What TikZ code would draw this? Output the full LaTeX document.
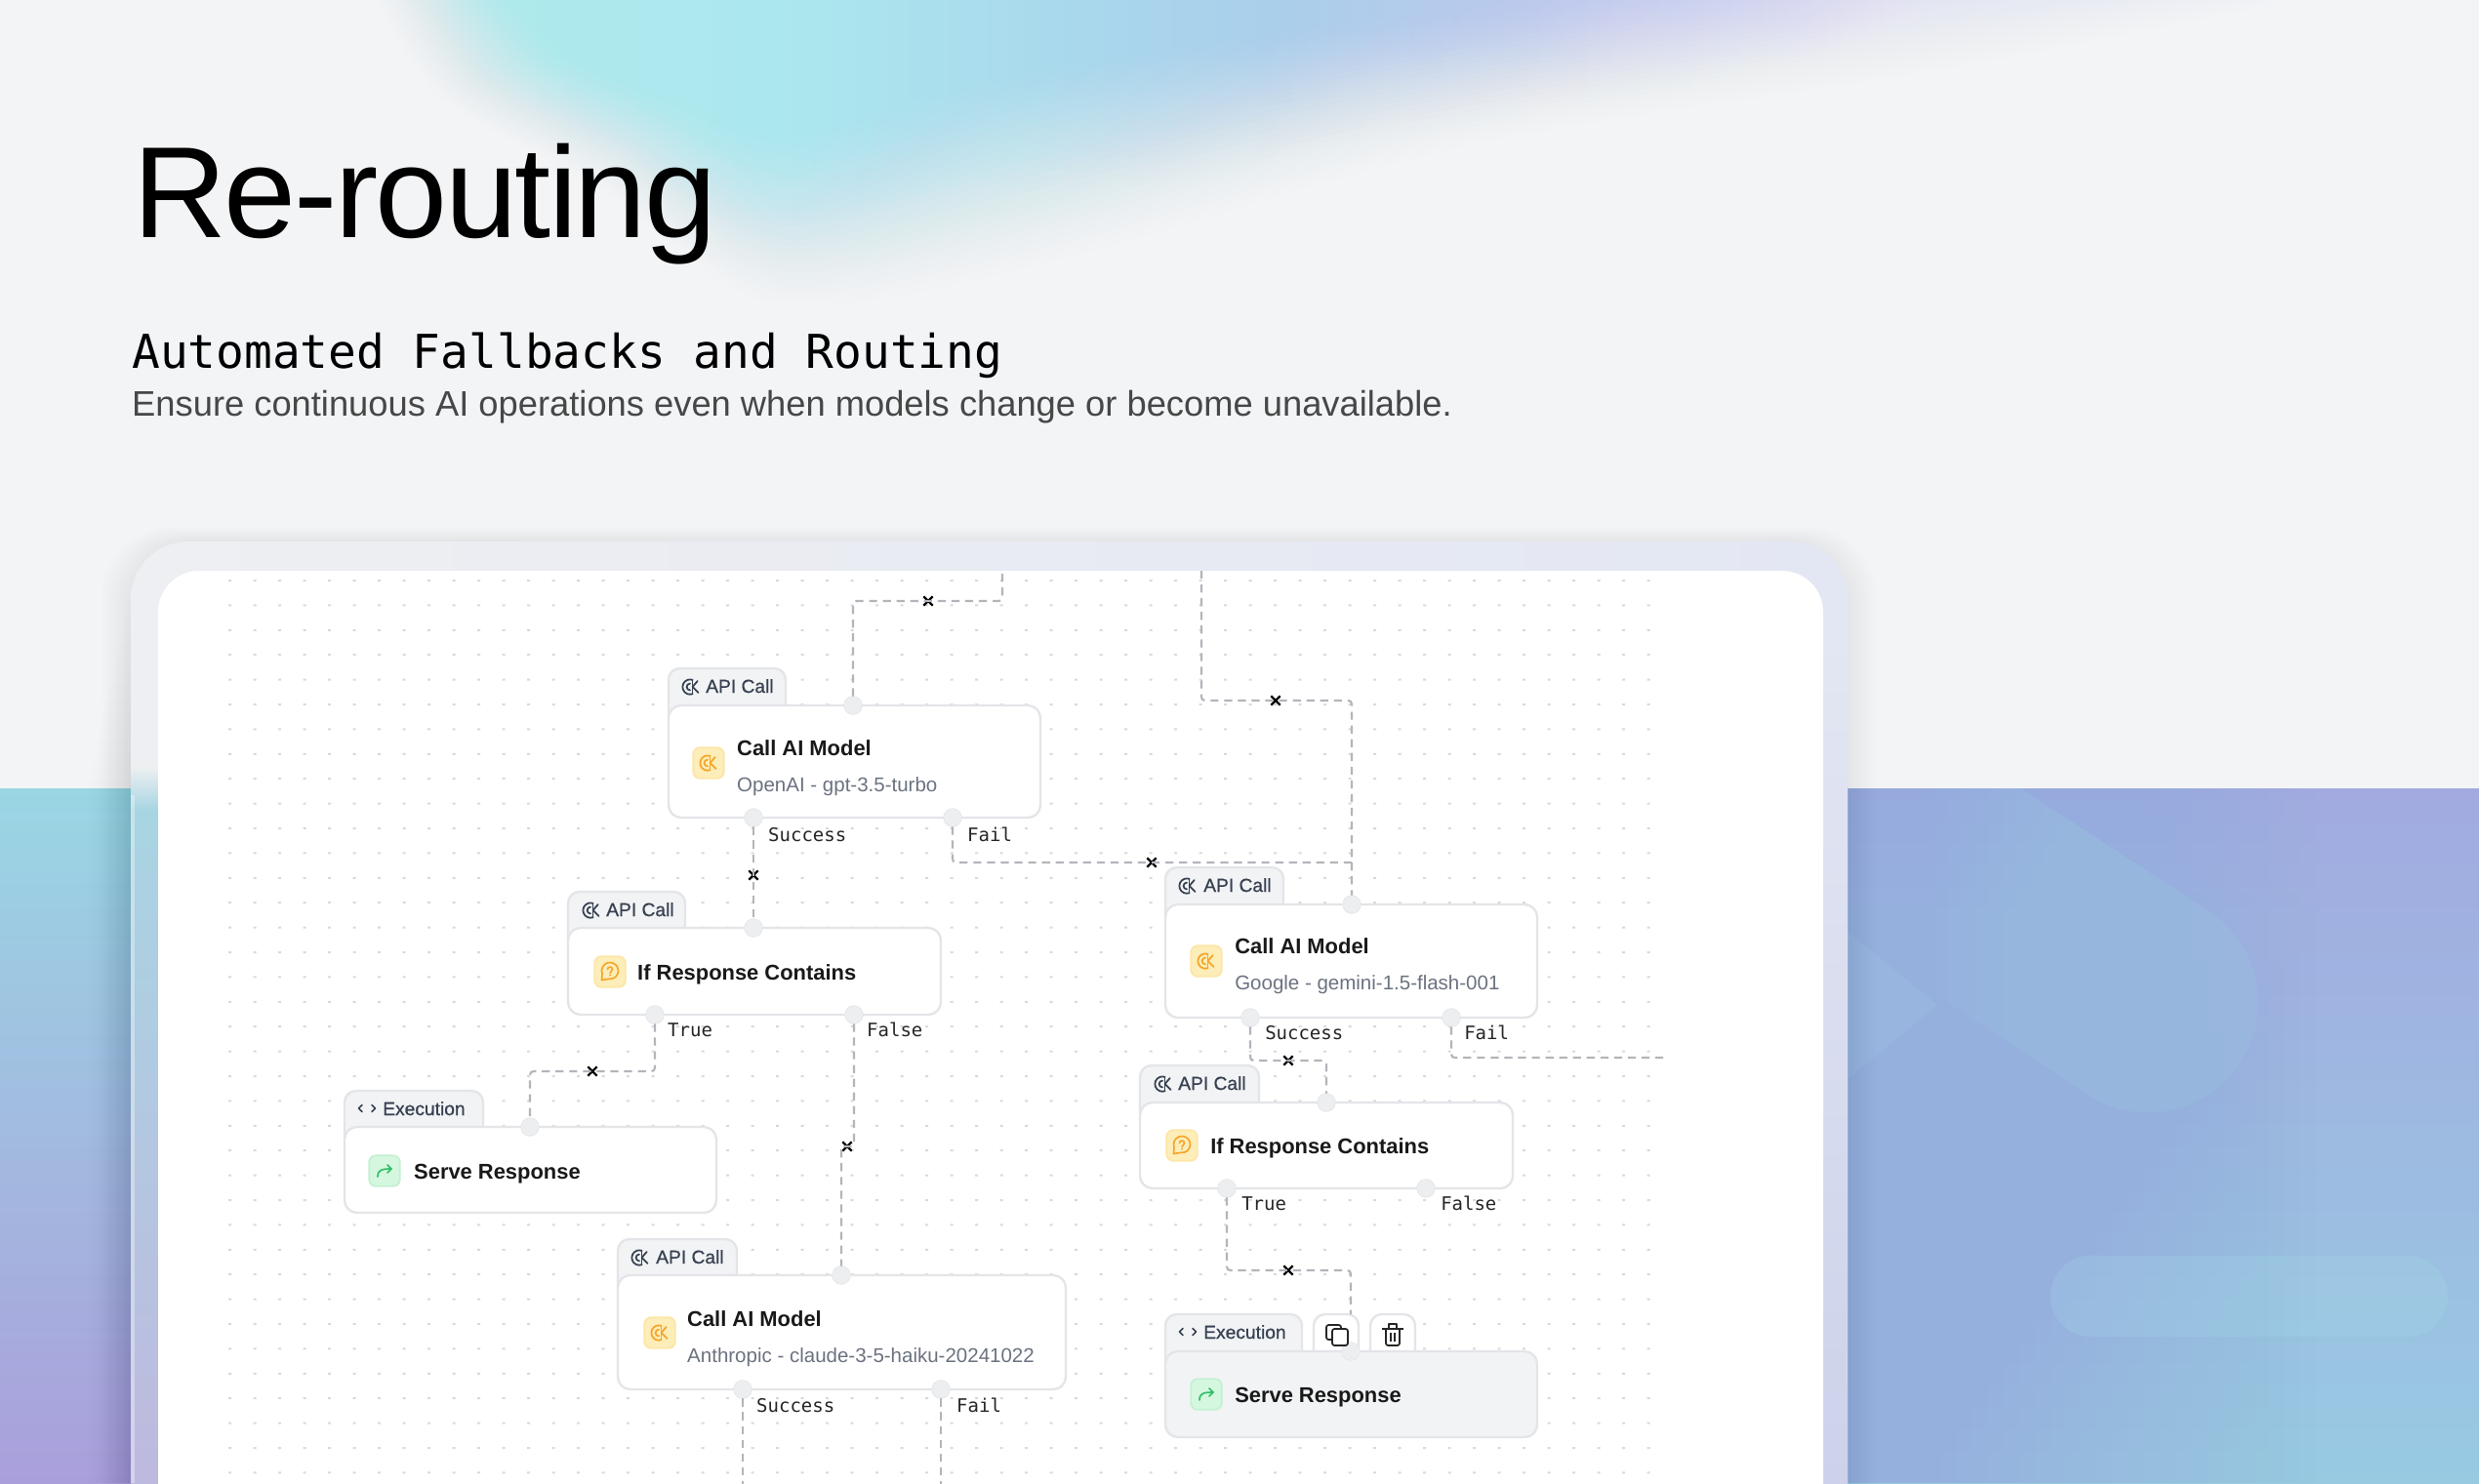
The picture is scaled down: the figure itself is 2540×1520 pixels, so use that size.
\documentclass[tikz,border=0pt]{standalone}
\usepackage{fontspec}
\usetikzlibrary{shapes.misc}
\setmainfont{Liberation Sans}
\newfontfamily\titlefont[LetterSpace=-1.9]{Liberation Sans}
\newfontfamily\headmono{DejaVu Sans Mono}
\newfontfamily\labelmono{DejaVu Sans Mono}
\newfontfamily\tabfont[FakeBold=0.7]{Liberation Sans}
\definecolor{pagebg}{HTML}{F2F4F6}
\definecolor{blobA}{HTML}{AEE9EC}
\definecolor{blobB}{HTML}{ABE7EE}
\definecolor{blobC}{HTML}{A9D8EC}
\definecolor{blobD}{HTML}{AACFEB}
\definecolor{blobE}{HTML}{BAC9EC}
\definecolor{blobF}{HTML}{D3D3F1}
\definecolor{blobG}{HTML}{E6E4F3}
\definecolor{edge}{HTML}{E3E5E8}
\definecolor{tabfill}{HTML}{F2F3F5}
\definecolor{wirecol}{HTML}{B2B5BA}
\definecolor{portcol}{HTML}{ECEEF0}
\definecolor{griddotcol}{HTML}{D9DADD}
\definecolor{amberfill}{HTML}{FDEDB9}
\definecolor{amberedge}{HTML}{FCE6A6}
\definecolor{amberink}{HTML}{F4A62A}
\definecolor{greenfill}{HTML}{D5F7DF}
\definecolor{greenedge}{HTML}{C4F0D2}
\definecolor{greenink}{HTML}{2FBF66}
\definecolor{tabink}{HTML}{374151}
\definecolor{subink}{HTML}{6B7280}
\definecolor{bandLa}{HTML}{9AD6E4}
\definecolor{bandLb}{HTML}{9CBEE2}
\definecolor{bandLc}{HTML}{AA9FDB}
\definecolor{bandRa}{HTML}{A2AAE0}
\definecolor{bandRb}{HTML}{96B6E2}
\definecolor{bandRc}{HTML}{98CAE2}
\definecolor{bandRleft}{HTML}{96B0DE}
\definecolor{logotint}{HTML}{A5E0EA}
\definecolor{rimL}{HTML}{EEEFF2}
\definecolor{rimR}{HTML}{E3E7F3}
\definecolor{rimLa}{HTML}{EEF0F2}
\definecolor{rimLb}{HTML}{A8D5E2}
\definecolor{rimLc}{HTML}{AFC5E1}
\definecolor{rimLd}{HTML}{BEB9DF}
\definecolor{rimRb}{HTML}{CDD1EA}
\pgfdeclarehorizontalshading{blobshade}{100bp}{
  color(0bp)=(blobA); color(29.9bp)=(blobA); color(37.3bp)=(blobB);
  color(44.6bp)=(blobC); color(49.5bp)=(blobD); color(55.6bp)=(blobE);
  color(63bp)=(blobF); color(69bp)=(blobG); color(75bp)=(pagebg); color(100bp)=(pagebg)}
\tikzset{
  nodebox/.style={rectangle,rounded corners=11pt,draw=edge,line width=2pt,fill=white,inner sep=0pt,outer sep=0pt,anchor=north west},
  tabbox/.style={rectangle,rounded corners=10pt,draw=edge,line width=2pt,fill=tabfill,inner sep=0pt,outer sep=0pt,anchor=north west},
  toolbox/.style={tabbox,fill=white},
  portdot/.style={circle,fill=portcol,draw=edge,line width=0.5pt,minimum size=16pt,inner sep=0pt,outer sep=0pt},
  wire/.style={draw=wirecol,line width=1.8pt,dash pattern=on 7pt off 5pt,rounded corners=3pt},
  xmark/.style={cross out,draw=black,line width=1.9pt,minimum size=8pt,inner sep=0pt,outer sep=0pt},
  nodettl/.style={anchor=base west,inner sep=0pt,font=\fontsize{18.7pt}{20pt}\selectfont\bfseries,text=black!90},
  nodesub/.style={anchor=base west,inner sep=0pt,font=\fontsize{17.5pt}{20pt}\selectfont,text=subink},
  tablabel/.style={anchor=base west,inner sep=0pt,font=\tabfont\fontsize{16.4pt}{18pt}\selectfont,text=tabink},
  portlabel/.style={anchor=base west,inner sep=0pt,font=\labelmono\fontsize{16.2pt}{18pt}\selectfont,text=black!85},
  iconbox/.style={rectangle,rounded corners=6pt,line width=1.5pt,minimum size=27pt,inner sep=0pt},
  griddot/.style={fill=griddotcol},
}
% API glyph: broken ring with a k-shaped mark
\newcommand{\apiglyph}[4]{\begin{scope}[shift={(#1,#2)},scale=#4,draw=#3,line width=1.5pt,line cap=round]
  \draw (3.1,8.5) arc[start angle=70,end angle=290,radius=9];
  \draw (0,4) arc[start angle=90,end angle=270,radius=4];
  \draw (3,-8) -- (3,8);
  \draw (3,0) -- (9,-7) (3,0) -- (10,7);
\end{scope}}
\newcommand{\bubbleglyph}[2]{\begin{scope}[shift={(#1,#2)},draw=amberink,line width=1.4pt,line cap=round,line join=round]
  \draw (-8,2.9) arc[start angle=160,end angle=460,radius=8.5] -- (-8.5,9.5) -- cycle;
  \draw (-2.5,-1.5) arc[start angle=180,end angle=420,radius=2.5] -- (0,2.5);
  \fill[amberink] (0,4.6) circle (1);
\end{scope}}
\newcommand{\arrowglyph}[2]{\begin{scope}[shift={(#1,#2)},draw=greenink,line width=1.4pt,line cap=round,line join=round]
  \draw (-7,6) .. controls (-7,-1) and (-3,-2) .. (7,-2);
  \draw (3,-6) -- (7,-2) -- (3,2);
\end{scope}}
\newcommand{\chevrons}[2]{\begin{scope}[shift={(#1,#2)},draw=tabink,line width=1.4pt,line cap=round,line join=round]
  \draw (-5,-3.5) -- (-8.5,0) -- (-5,3.5);
  \draw (5,-3.5) -- (8.5,0) -- (5,3.5);
\end{scope}}
\begin{document}
\begin{tikzpicture}[x=0.3mm,y=-0.3mm]
\useasboundingbox (0,0) rectangle (2540,1520);
\clip (0,0) rectangle (2540,1520);
\fill[pagebg] (0,0) rectangle (2540,1520);
% soft glow at the top: nested outlines with a smooth ramp of opacity
\foreach \k in {1,...,30}{
  \pgfmathsetmacro\blobt{(\k-1)/29}
  \pgfmathsetmacro\rampA{(\k/30)*(\k/30)*(3-2*\k/30)}
  \pgfmathsetmacro\rampB{((\k-1)/30)*((\k-1)/30)*(3-2*(\k-1)/30)}
  \pgfmathsetmacro\bloba{min(1,(\rampA-\rampB)/(1-\rampB))}
  \begin{scope}
    \clip plot[smooth] coordinates {
      ({380+150*\blobt},-10) ({450+140*\blobt},{100-50*\blobt}) ({610+80*\blobt},{190-100*\blobt})
      ({790+20*\blobt},{310-190*\blobt}) ({1050-50*\blobt},{275-215*\blobt}) ({1500-200*\blobt},{150-130*\blobt})
      ({2000-500*\blobt},{70-75*\blobt}) ({2400-700*\blobt},-10)} -- (2600,-30) -- (300,-30) -- cycle;
    \shade[shading=blobshade,opacity=\bloba] (300,-30) rectangle (2340,340);
  \end{scope}
}
% colour bands
\shade[top color=bandLa,middle color=bandLb,bottom color=bandLc] (0,808) rectangle (140,1520);
\shade[top color=bandRa,middle color=bandRb,bottom color=bandRc] (1885,808) rectangle (2540,1520);
\foreach \k in {1,...,30}{
  \fill[bandRleft,opacity=.04] (1885,808) rectangle ({1893+16*\k},1520);
}
% faint logo shapes
\foreach \k in {1,...,12}{
  \begin{scope}
    \clip ({2150-14*\k},808) rectangle (2540,1520);
    \fill[logotint,opacity=.022] (1893,808) -- (2071,808) -- (2264,934) arc[start angle=-56,end angle=124,radius=113] -- (2031,1051) -- (1985,1020) -- (1893,940) -- cycle;
  \end{scope}
  \begin{scope}
    \clip ({2060-14*\k},808) rectangle (2540,1520);
    \fill[logotint,opacity=.02] (1893,1000) -- (1985,1040) -- (2031,1085) -- (2120,1160) .. controls (2140,1172) and (2160,1178) .. (2180,1181) -- (1932,1342) -- (1893,1370) -- cycle;
  \end{scope}
}
\fill[logotint,opacity=.12] (1893,955) -- (1985,1030) -- (1893,1106) -- cycle;
\fill[logotint,opacity=.2,rounded corners=35pt] (2101,1287) rectangle (2508,1370);
% card shadow
\foreach \k in {1,...,15}{
  \fill[black,opacity=.003,rounded corners=60pt] ({134-2*\k},{555-1*\k}) rectangle ({1893+2*\k},1640);
  \fill[black,opacity=.005] ({134-3*\k},{590+14*\k}) rectangle (140,1520);
}
% card rim and sheet
\shade[left color=rimL,right color=rimR,rounded corners=50pt] (134,555) rectangle (1893,1640);
\shade[top color=rimLa,bottom color=rimLb] (134,785) rectangle (162,830);
\shade[top color=rimLb,middle color=rimLc,bottom color=rimLd] (134,830) rectangle (162,1520);
\fill[white,opacity=.35] (134,815) rectangle (138,1520);
\shade[top color=rimR,bottom color=rimRb] (1868,650) rectangle (1893,1520);
\fill[white,rounded corners=36pt] (162,585) rectangle (1868,1640);
% dot grid
\fill[griddot] \foreach \i in {0,...,57}{\foreach \j in {0,...,37}{({234+25.5*\i},{594+25.4*\j}) rectangle ++(3,2)}};
% heading
\node[anchor=base west,inner sep=0pt,font=\titlefont\fontsize{113.5pt}{120pt}\selectfont,text=black] (title) at (136,243) {Re-routing};
\node[anchor=base west,inner sep=0pt,font=\headmono\fontsize{40.8pt}{44pt}\selectfont,text=black] (head) at (135,377) {Automated Fallbacks and Routing};
\node[anchor=base west,inner sep=0pt,font=\fontsize{31pt}{36pt}\selectfont,text=black!72] (lede) at (135,426) {Ensure continuous AI operations even when models change or become unavailable.};
% tabs
\node[tabbox,minimum width={120*0.8536pt},minimum height={60*0.8536pt}] (t1) at (685,685) {};
\node[tabbox,minimum width={120*0.8536pt},minimum height={60*0.8536pt}] (t2) at (582,914) {};
\node[tabbox,minimum width={121*0.8536pt},minimum height={60*0.8536pt}] (t3) at (1194,889) {};
\node[tabbox,minimum width={142*0.8536pt},minimum height={60*0.8536pt}] (t4) at (353,1118) {};
\node[tabbox,minimum width={122*0.8536pt},minimum height={60*0.8536pt}] (t5) at (633,1270) {};
\node[tabbox,minimum width={122*0.8536pt},minimum height={60*0.8536pt}] (t6) at (1168,1092) {};
\node[tabbox,minimum width={140*0.8536pt},minimum height={60*0.8536pt}] (t7) at (1194,1347) {};
\node[toolbox,minimum width={46*0.8536pt},minimum height={60*0.8536pt}] (copy) at (1346,1347) {};
\node[toolbox,minimum width={46*0.8536pt},minimum height={60*0.8536pt}] (bin) at (1404,1347) {};
% boxes
\node[nodebox,minimum width={381*0.8536pt},minimum height={115*0.8536pt}] (n1) at (685,723) {};
\node[nodebox,minimum width={382*0.8536pt},minimum height={89*0.8536pt}] (n2) at (582,951) {};
\node[nodebox,minimum width={381*0.8536pt},minimum height={116*0.8536pt}] (n3) at (1194,927) {};
\node[nodebox,minimum width={381*0.8536pt},minimum height={88*0.8536pt}] (n4) at (353,1155) {};
\node[nodebox,minimum width={459*0.8536pt},minimum height={117*0.8536pt}] (n5) at (633,1307) {};
\node[nodebox,minimum width={382*0.8536pt},minimum height={88*0.8536pt}] (n6) at (1168,1130) {};
\node[nodebox,fill=tabfill,minimum width={381*0.8536pt},minimum height={88*0.8536pt}] (n7) at (1194,1385) {};
% ports
\node[portdot] (p1t) at (874,723) {};
\node[portdot] (p1a) at (772,838) {};
\node[portdot] (p1b) at (976,838) {};
\node[portdot] (p2t) at (772,951) {};
\node[portdot] (p2a) at (671,1040) {};
\node[portdot] (p2b) at (875,1040) {};
\node[portdot] (p3t) at (1385,927) {};
\node[portdot] (p3a) at (1281,1043) {};
\node[portdot] (p3b) at (1487,1043) {};
\node[portdot] (p4t) at (543,1155) {};
\node[portdot] (p5t) at (862,1307) {};
\node[portdot] (p5a) at (761,1424) {};
\node[portdot] (p5b) at (964,1424) {};
\node[portdot] (p6t) at (1359,1130) {};
\node[portdot] (p6a) at (1257,1218) {};
\node[portdot] (p6b) at (1461,1218) {};
\node[portdot] (p7t) at (1384,1385) {};
% free ends and x marks
\coordinate (e1) at (1027,585);
\coordinate (e2) at (1231,585);
\coordinate (e3) at (761,1530);
\coordinate (e4) at (964,1530);
\coordinate (e5) at (1709,1084);
\node[xmark] (m1) at (951,616) {};
\node[xmark] (m2) at (772,897) {};
\node[xmark] (m3) at (1180,884) {};
\node[xmark] (m4) at (1307,718) {};
\node[xmark] (m5) at (607,1098) {};
\node[xmark] (m6) at (868,1175) {};
\node[xmark] (m7) at (1320,1087) {};
\node[xmark] (m8) at (1320,1302) {};
% connectors
\draw[wire] (p1t.north) |- (m1.center) -| (e1);
\draw[wire] (p1a.south) -- (p2t.north);
\draw[wire] (p1b.south) |- (m3.center) -- (m3.center -| p3t.center);
\draw[wire] (e2) |- (m4.center) -| (p3t.north);
\draw[wire] (p2a.south) |- (m5.center) -| (p4t.north);
\draw[wire] (p2b.south) |- (m6.center) -| (p5t.north);
\draw[wire] (p5a.south) -- (e3);
\draw[wire] (p5b.south) -- (e4);
\draw[wire] (p3a.south) |- (m7.center) -| (p6t.north);
\draw[wire] (p3b.south) |- (e5);
\draw[wire] (p6a.south) |- (m8.center) -| (copy.north -| p7t);
% tab labels and glyphs
\apiglyph{707}{704}{tabink}{.85}
\node[tablabel] (l1) at (723,710) {API Call};
\apiglyph{605}{933}{tabink}{.85}
\node[tablabel] (l2) at (621,939) {API Call};
\apiglyph{1216}{908}{tabink}{.85}
\node[tablabel] (l3) at (1233,914) {API Call};
\chevrons{376}{1136}
\node[tablabel] (l4) at (392,1143) {Execution};
\apiglyph{655}{1289}{tabink}{.85}
\node[tablabel] (l5) at (672,1295) {API Call};
\apiglyph{1191}{1111}{tabink}{.85}
\node[tablabel] (l6) at (1207,1117) {API Call};
\chevrons{1217}{1365}
\node[tablabel] (l7) at (1233,1372) {Execution};
% copy and delete icons
\begin{scope}[draw=black!85,line width=1.5pt,line join=round]
  \draw[rounded corners=2pt] (1365,1373) -- (1359,1373) -- (1359,1358) -- (1374,1358) -- (1374,1362);
  \draw[rounded corners=2pt] (1365,1362) rectangle (1381,1379);
  \draw[rounded corners=2pt] (1420,1362) -- (1420,1379) -- (1434,1379) -- (1434,1362);
  \draw (1416,1362) -- (1438,1362);
  \draw (1423,1362) -- (1423,1357) -- (1431,1357) -- (1431,1362);
  \draw (1425,1366) -- (1425,1375) (1429,1366) -- (1429,1375);
\end{scope}
% body icons
\node[iconbox,fill=amberfill,draw=amberedge] (i1) at (726,782) {};
\apiglyph{725}{782}{amberink}{.85}
\node[iconbox,fill=amberfill,draw=amberedge] (i2) at (625,996) {};
\bubbleglyph{625}{995}
\node[iconbox,fill=amberfill,draw=amberedge] (i3) at (1236,985) {};
\apiglyph{1235}{985}{amberink}{.85}
\node[iconbox,fill=greenfill,draw=greenedge] (i4) at (394,1200) {};
\arrowglyph{394}{1200}
\node[iconbox,fill=amberfill,draw=amberedge] (i5) at (676,1366) {};
\apiglyph{675}{1366}{amberink}{.85}
\node[iconbox,fill=amberfill,draw=amberedge] (i6) at (1211,1174) {};
\bubbleglyph{1211}{1173}
\node[iconbox,fill=greenfill,draw=greenedge] (i7) at (1236,1429) {};
\arrowglyph{1236}{1429}
% node texts
\node[nodettl] (a1) at (755,774) {Call AI Model};
\node[nodesub] (b1) at (755,811) {OpenAI - gpt-3.5-turbo};
\node[nodettl] (a2) at (653,1004) {If Response Contains};
\node[nodettl] (a3) at (1265,977) {Call AI Model};
\node[nodesub] (b3) at (1265,1014) {Google - gemini-1.5-flash-001};
\node[nodettl] (a4) at (424,1208) {Serve Response};
\node[nodettl] (a5) at (704,1359) {Call AI Model};
\node[nodesub] (b5) at (704,1396) {Anthropic - claude-3-5-haiku-20241022};
\node[nodettl] (a6) at (1240,1182) {If Response Contains};
\node[nodettl] (a7) at (1265,1437) {Serve Response};
% port labels
\node[portlabel] (s1) at (787,862) {Success};
\node[portlabel] (f1) at (991,862) {Fail};
\node[portlabel] (s2) at (684,1062) {True};
\node[portlabel] (f2) at (888,1062) {False};
\node[portlabel] (s3) at (1296,1065) {Success};
\node[portlabel] (f3) at (1500,1065) {Fail};
\node[portlabel] (s5) at (775,1447) {Success};
\node[portlabel] (f5) at (980,1447) {Fail};
\node[portlabel] (s6) at (1272,1240) {True};
\node[portlabel] (f6) at (1476,1240) {False};
\end{tikzpicture}
\end{document}
